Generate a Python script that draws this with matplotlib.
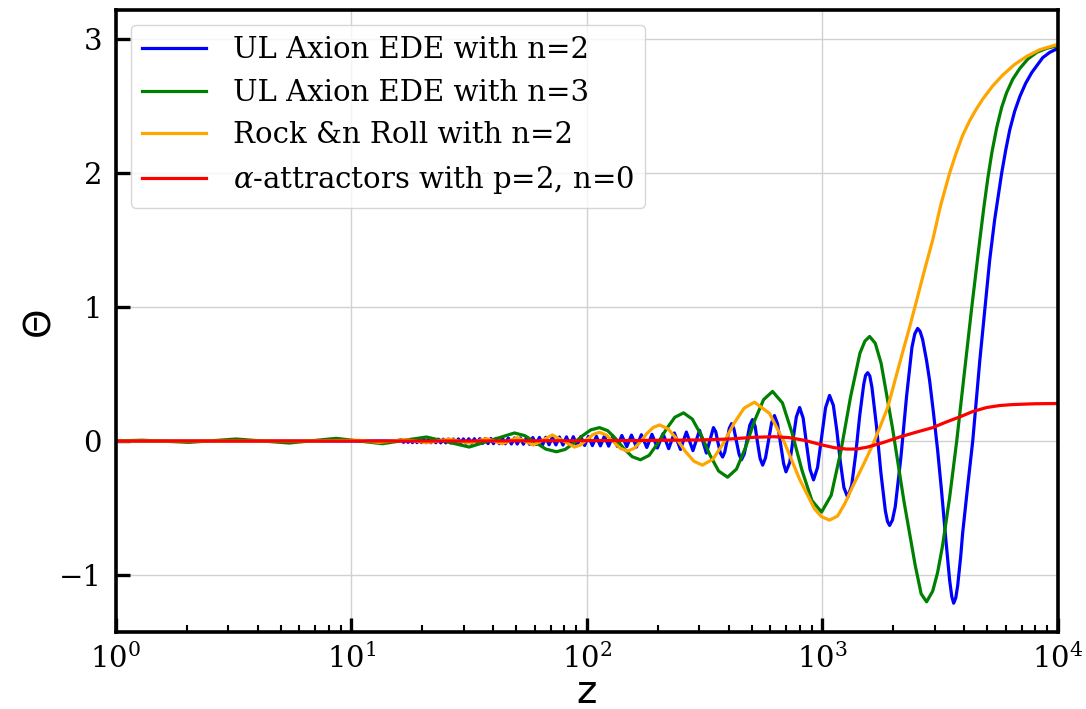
import matplotlib
matplotlib.use('Agg')
import matplotlib.pyplot as plt
import numpy as np

plt.rcParams['font.family'] = 'DejaVu Serif'
plt.rcParams['mathtext.fontset'] = 'dejavuserif'

#---  data: log10(z) and Theta  ---
logz_n2 = [0.000, 1.190,
           1.211, 1.221, 1.230, 1.240, 1.250, 1.259, 1.269, 1.278, 1.288, 1.297,
           1.307, 1.316, 1.326, 1.337, 1.347, 1.358, 1.369, 1.379, 1.390, 1.400,
           1.411, 1.422, 1.432, 1.443, 1.454, 1.464, 1.475, 1.486, 1.498, 1.510,
           1.522, 1.533, 1.545, 1.557, 1.568, 1.580, 1.592, 1.603, 1.615, 1.628,
           1.641, 1.653, 1.666, 1.679, 1.692, 1.704, 1.717, 1.730, 1.743, 1.756,
           1.770, 1.784, 1.798, 1.812, 1.825, 1.839, 1.853, 1.868, 1.883, 1.898,
           1.913, 1.927, 1.942, 1.958, 1.974, 1.990, 2.006, 2.023, 2.040, 2.057,
           2.074, 2.092, 2.110, 2.129, 2.148, 2.169, 2.189, 2.210, 2.231, 2.254,
           2.276, 2.299, 2.323, 2.347, 2.371, 2.397, 2.422, 2.450, 2.478, 2.507,
           2.537, 2.547, 2.556, 2.566, 2.576, 2.585, 2.595, 2.604, 2.614,
           2.624, 2.635, 2.646, 2.656, 2.668, 2.680, 2.691, 2.703,
           2.714, 2.724, 2.735, 2.746, 2.758, 2.771, 2.784, 2.796,
           2.809, 2.822, 2.835, 2.845, 2.861, 2.875, 2.889, 2.903,
           2.918, 2.932, 2.947, 2.962, 2.979, 2.996, 3.013, 3.030,
           3.046, 3.061, 3.076, 3.091, 3.107, 3.124, 3.141, 3.158, 3.175, 3.183,
           3.192, 3.201, 3.210, 3.229, 3.248, 3.267, 3.276, 3.285, 3.297, 3.309,
           3.333, 3.357, 3.380, 3.392, 3.404, 3.414,
           3.425, 3.442, 3.455, 3.472, 3.489, 3.506, 3.523, 3.540, 3.549, 3.557,
           3.566, 3.574, 3.587, 3.595, 3.617, 3.638,
           3.653, 3.668, 3.693, 3.710, 3.731, 3.761, 3.778, 3.795, 3.816, 3.838,
           3.863, 3.889, 3.935, 3.965, 4.000]
theta_n2 = [0.0, 0.0,
            0.010, -0.010, 0.010, -0.010, 0.012, -0.012, 0.012, -0.012, 0.012, -0.012,
            0.013, -0.013, 0.013, -0.013, 0.013, -0.013, 0.014, -0.014, 0.014, -0.014,
            0.015, -0.015, 0.015, -0.015, 0.016, -0.016, 0.016, -0.016, 0.017, -0.017,
            0.017, -0.018, 0.018, -0.018, 0.019, -0.019, 0.019, -0.020, 0.020, -0.020,
            0.021, -0.021, 0.022, -0.022, 0.023, -0.023, 0.024, -0.024, 0.025, -0.025,
            0.026, -0.026, 0.027, -0.027, 0.028, -0.028, 0.029, -0.029, 0.030, -0.030,
            0.031, -0.031, 0.032, -0.032, 0.033, -0.033, 0.034, -0.034, 0.035, -0.036,
            0.037, -0.038, 0.039, -0.040, 0.041, -0.042, 0.044, -0.045, 0.047, -0.048,
            0.050, -0.052, 0.055, -0.057, 0.060, -0.063, 0.067, -0.072, 0.080, -0.090,
            0.100, 0.068, -0.010, -0.088, -0.120, -0.083, 0.005, 0.093, 0.130,
            0.090, -0.005, -0.100, -0.140, -0.096, 0.010, 0.116, 0.160,
            0.110, -0.010, -0.130, -0.180, -0.126, 0.005, 0.136, 0.190,
            0.129, -0.020, -0.169, -0.230, -0.160, 0.010, 0.180, 0.250,
            0.171, -0.020, -0.211, -0.290, -0.198, 0.025, 0.248, 0.340,
            0.267, 0.077, -0.157, -0.347, -0.420, -0.331, -0.099, 0.189, 0.421, 0.490,
            0.510, 0.485, 0.401, 0.116, -0.236, -0.521, -0.600, -0.630, -0.590, -0.490,
            -0.122, 0.332, 0.700, 0.800, 0.840, 0.820,
            0.760, 0.600, 0.450, 0.200, -0.070, -0.380, -0.720, -1.040, -1.160, -1.210,
            -1.170, -1.080, -0.860, -0.690, -0.330, 0.000,
            0.300, 0.600, 1.050, 1.350, 1.650, 2.000, 2.170, 2.320, 2.460, 2.570,
            2.670, 2.750, 2.860, 2.900, 2.930]

logz_n3 = [0.000, 0.111, 0.310, 0.510, 0.735, 0.935, 1.131, 1.318, 1.500, 1.692,
           1.736, 1.781, 1.825, 1.870, 1.907, 1.943, 1.980, 2.016, 2.053,
           2.088, 2.122, 2.157, 2.192, 2.227, 2.264, 2.300, 2.337, 2.373, 2.410,
           2.447, 2.485, 2.522, 2.559, 2.597, 2.635, 2.673, 2.711, 2.750, 2.788,
           2.830, 2.871, 2.913, 2.955, 2.996, 3.037, 3.078, 3.119, 3.159, 3.180, 3.200,
           3.224, 3.249, 3.297, 3.346, 3.394, 3.419, 3.442, 3.468, 3.489, 3.510, 3.540,
           3.570, 3.600, 3.634, 3.668, 3.685, 3.702, 3.719, 3.740, 3.761, 3.782,
           3.808, 3.838, 3.872, 3.910, 3.952, 4.000]
theta_n3 = [0.0, 0.006, -0.010, 0.015, -0.015, 0.020, -0.020, 0.030, -0.045, 0.060,
            0.040, -0.010, -0.060, -0.080, -0.063, -0.018, 0.038, 0.083, 0.100,
            0.077, 0.017, -0.057, -0.117, -0.140, -0.107, -0.019, 0.089, 0.177, 0.210,
            0.164, 0.044, -0.104, -0.224, -0.270, -0.209, -0.049, 0.149, 0.309, 0.370,
            0.284, 0.059, -0.219, -0.444, -0.530, -0.405, -0.077, 0.327, 0.655, 0.745, 0.780,
            0.730, 0.580, 0.100, -0.450, -0.930, -1.140, -1.200, -1.120, -0.980, -0.780, -0.420,
            0.000, 0.470, 1.000, 1.500, 1.740, 1.960, 2.150, 2.340, 2.490, 2.600,
            2.700, 2.780, 2.850, 2.900, 2.930, 2.950]

logz_rock = [0.000, 0.778, 1.033, 1.118, 1.224, 1.322, 1.415, 1.500, 1.573, 1.641,
             1.704, 1.772, 1.853, 1.947, 1.973, 2.000, 2.026, 2.053,
             2.082, 2.112, 2.142, 2.172, 2.199, 2.226, 2.253, 2.281, 2.308,
             2.344, 2.381, 2.417, 2.454, 2.490, 2.535, 2.579, 2.623, 2.667, 2.711,
             2.775, 2.839, 2.903, 2.966, 2.996, 3.030, 3.064, 3.094, 3.128, 3.170,
             3.213, 3.243, 3.277, 3.306, 3.340, 3.370, 3.400, 3.434, 3.468, 3.502,
             3.540, 3.566, 3.595, 3.625, 3.651, 3.680, 3.723, 3.765, 3.816, 3.867,
             3.923, 4.000]
theta_rock = [0.0, 0.0, 0.005, -0.010, 0.010, -0.012, 0.014, -0.015, 0.018, -0.020,
              0.025, -0.030, 0.045, -0.045, -0.029, 0.010, 0.049, 0.065,
              0.045, -0.005, -0.055, -0.075, -0.056, -0.008, 0.053, 0.101, 0.120,
              0.091, 0.016, -0.076, -0.151, -0.180, -0.135, -0.018, 0.128, 0.245, 0.290,
              0.206, -0.014, -0.286, -0.506, -0.565, -0.590, -0.560, -0.470, -0.340, -0.190,
              -0.030, 0.100, 0.250, 0.440, 0.660, 0.850, 1.050, 1.280, 1.500, 1.760,
              2.000, 2.140, 2.280, 2.390, 2.470, 2.550, 2.650, 2.730, 2.810, 2.870,
              2.920, 2.960]

logz_alpha = [0.000, 1.415, 1.883, 2.223, 2.478, 2.605, 2.711, 2.796, 2.860, 2.924,
              3.000, 3.051, 3.102, 3.145, 3.192, 3.260, 3.328, 3.396, 3.468, 3.523,
              3.583, 3.638, 3.697, 3.753, 3.808, 3.901, 4.000]
theta_alpha = [0.0, 0.0, 0.002, 0.004, 0.008, 0.015, 0.028, 0.032, 0.025, 0.005,
               -0.030, -0.050, -0.060, -0.060, -0.045, -0.010, 0.030, 0.065, 0.100, 0.140,
               0.180, 0.220, 0.250, 0.265, 0.272, 0.278, 0.280]

labels = ['UL Axion EDE with n=2', 'UL Axion EDE with n=3',
          'Rock &n Roll with n=2', r'$\alpha$-attractors with p=2, n=0']
colors = ['blue', 'green', 'orange', 'red']

#---  creates plot  ---
fig = plt.figure(figsize=(10.86, 7.09), dpi=100)
ax = fig.add_axes([0.1068, 0.1086, 0.8674, 0.8773])

series = [(logz_n2, theta_n2), (logz_n3, theta_n3),
          (logz_rock, theta_rock), (logz_alpha, theta_alpha)]
for (lz, th), lab, col in zip(series, labels, colors):
    ax.plot(10**np.array(lz), th, color=col, lw=2.3, label=lab)

ax.set_xscale('log')
ax.set_xlim(1, 1e4)
ax.set_ylim(-1.425, 3.216)
ax.set_yticks([-1, 0, 1, 2, 3])
ax.grid(True, which='major', color='0.82', lw=1.0)

for s in ax.spines.values():
    s.set_linewidth(2.6)
ax.tick_params(axis='both', which='major', direction='in', length=10, width=2.4,
               labelsize=21, top=False, right=False)
ax.tick_params(axis='x', which='minor', direction='in', length=5, width=1.5, top=False)
ax.tick_params(axis='x', which='major', pad=8)
ax.tick_params(axis='y', which='major', pad=10)

ax.set_xlabel('z', fontsize=28, family='DejaVu Sans')
ax.xaxis.set_label_coords(0.5, -0.066)
ax.set_ylabel('Θ', fontsize=27, family='DejaVu Sans')
ax.yaxis.set_label_coords(-0.062, 0.5)

ax.legend(loc='upper left', fontsize=21, handlelength=2.2, handletextpad=0.9)

plt.savefig('out.png', dpi=100)
